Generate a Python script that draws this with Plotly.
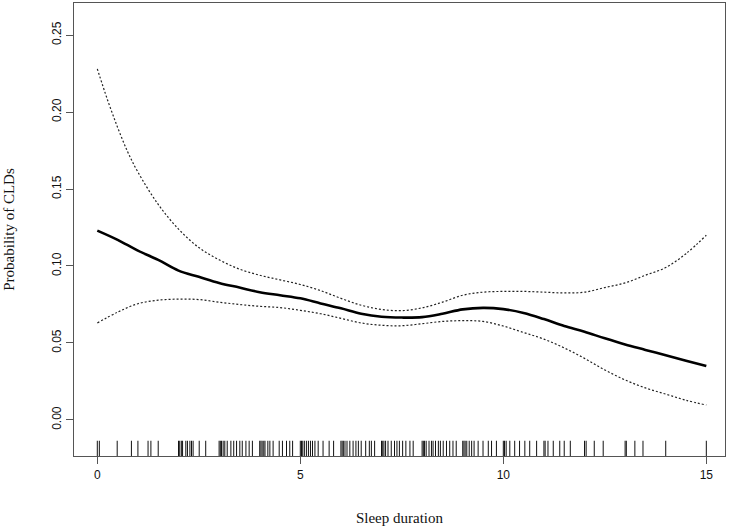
import plotly.graph_objects as go

# Curve grid (sleep duration, hours)
sleep_x = [0, 0.5, 1, 1.5, 2, 2.5, 3, 3.5, 4, 4.5, 5, 5.5, 6, 6.5, 7, 7.5, 8,
           8.5, 9, 9.5, 10, 10.5, 11, 11.5, 12, 12.5, 13, 13.5, 14, 14.5, 15]

prob_fit = [0.123, 0.117, 0.110, 0.104, 0.097, 0.093, 0.089, 0.086, 0.083, 0.081,
            0.079, 0.0757, 0.0725, 0.069, 0.067, 0.0665, 0.0668, 0.069, 0.0718,
            0.0728, 0.072, 0.0695, 0.0655, 0.061, 0.0573, 0.053, 0.049, 0.0455,
            0.042, 0.0385, 0.035]

upper_x = [0, 0.25, 0.5, 0.75, 1, 1.5, 2, 2.5, 3, 3.5, 4, 4.5, 5, 5.5, 6, 6.5, 7,
           7.5, 8, 8.5, 9, 9.5, 10, 10.5, 11, 11.5, 12, 12.5, 13, 13.5, 14, 14.5, 15]
prob_upper = [0.228, 0.208, 0.190, 0.174, 0.161, 0.140, 0.124, 0.112, 0.104, 0.098,
              0.094, 0.091, 0.088, 0.084, 0.079, 0.0745, 0.0718, 0.071, 0.0728,
              0.0765, 0.081, 0.083, 0.0835, 0.0835, 0.083, 0.0825, 0.083, 0.086,
              0.089, 0.094, 0.099, 0.108, 0.120]

prob_lower = [0.063, 0.070, 0.0755, 0.0778, 0.0785, 0.0782, 0.0765, 0.075, 0.0738,
              0.073, 0.0712, 0.069, 0.066, 0.063, 0.0615, 0.0612, 0.0625, 0.064,
              0.0645, 0.064, 0.061, 0.0568, 0.0525, 0.0468, 0.0400, 0.0325, 0.026,
              0.0208, 0.0168, 0.0128, 0.0097]

# Observed sleep durations (rug)
rug_values = [0, 0.05, 0.49, 0.84, 1.0, 1.25, 1.32, 1.5, 2.0, 2.03, 2.07, 2.1, 2.18,
              2.22, 2.28, 2.32, 2.36, 2.51, 2.67, 3.0, 3.03, 3.06, 3.1, 3.14, 3.2,
              3.29, 3.36, 3.43, 3.51, 3.57, 3.66, 3.74, 3.82, 4.0, 4.03, 4.06, 4.1,
              4.13, 4.2, 4.25, 4.33, 4.48, 4.56, 4.66, 4.74, 4.81, 5.0, 5.03, 5.06,
              5.1, 5.15, 5.2, 5.25, 5.3, 5.36, 5.44, 5.56, 5.71, 5.82, 6.0, 6.03,
              6.06, 6.1, 6.15, 6.22, 6.3, 6.37, 6.43, 6.5, 6.61, 6.7, 6.75, 6.83,
              7.0, 7.03, 7.06, 7.1, 7.16, 7.24, 7.32, 7.38, 7.44, 7.52, 7.6, 7.7,
              7.78, 8.0, 8.03, 8.06, 8.1, 8.17, 8.23, 8.27, 8.33, 8.4, 8.45, 8.52,
              8.6, 8.68, 8.76, 8.84, 9.0, 9.03, 9.06, 9.1, 9.16, 9.22, 9.28, 9.38,
              9.5, 9.63, 9.71, 9.83, 10.0, 10.03, 10.07, 10.16, 10.28, 10.4, 10.53,
              10.65, 10.82, 11.0, 11.03, 11.1, 11.23, 11.39, 11.5, 11.65, 12.0,
              12.04, 12.24, 12.46, 13.0, 13.03, 13.24, 13.44, 14.0, 15.0]

x_ticks = [0, 5, 10, 15]
y_ticks = [0.00, 0.05, 0.10, 0.15, 0.20, 0.25]
y_range = [-0.0234, 0.2708]
x_range = [-0.574, 15.46]
rug_top = -0.0135

rug_x, rug_y = [], []
for v in rug_values:
    rug_x += [v, v, None]
    rug_y += [y_range[0], rug_top, None]

fig = go.Figure()
fig.add_trace(go.Scatter(x=rug_x, y=rug_y, mode="lines",
                         line=dict(color="#111111", width=1), hoverinfo="skip"))
fig.add_trace(go.Scatter(x=upper_x, y=prob_upper, mode="lines",
                         line=dict(color="#222222", width=1.2, dash="2px,2px", shape="spline")))
fig.add_trace(go.Scatter(x=sleep_x, y=prob_lower, mode="lines",
                         line=dict(color="#222222", width=1.2, dash="2px,2px", shape="spline")))
fig.add_trace(go.Scatter(x=sleep_x, y=prob_fit, mode="lines",
                         line=dict(color="black", width=2.6, shape="spline")))

axis_common = dict(showline=True, mirror=True, linecolor="#555555", linewidth=1.2,
                   ticks="outside", ticklen=7, tickcolor="#555555", tickwidth=1.2,
                   showgrid=False, zeroline=False,
                   tickfont=dict(family="Liberation Sans, Arial", size=12, color="#111111"))

fig.update_layout(
    width=733, height=530,
    margin=dict(l=74, r=8, t=3, b=74),
    paper_bgcolor="white", plot_bgcolor="white",
    showlegend=False,
    xaxis=dict(range=x_range, tickvals=x_ticks, ticktext=[str(t) for t in x_ticks],
               title=dict(text="Sleep duration", standoff=31,
                          font=dict(family="Liberation Serif, Times New Roman", size=15, color="#111111")),
               **axis_common),
    yaxis=dict(range=y_range, tickvals=y_ticks, ticktext=[f"{t:.2f}" for t in y_ticks],
               tickangle=-90,
               title=dict(text="Probability of CLDs", standoff=31,
                          font=dict(family="Liberation Serif, Times New Roman", size=15, color="#111111")),
               **axis_common),
)

fig.write_html("out.html")
